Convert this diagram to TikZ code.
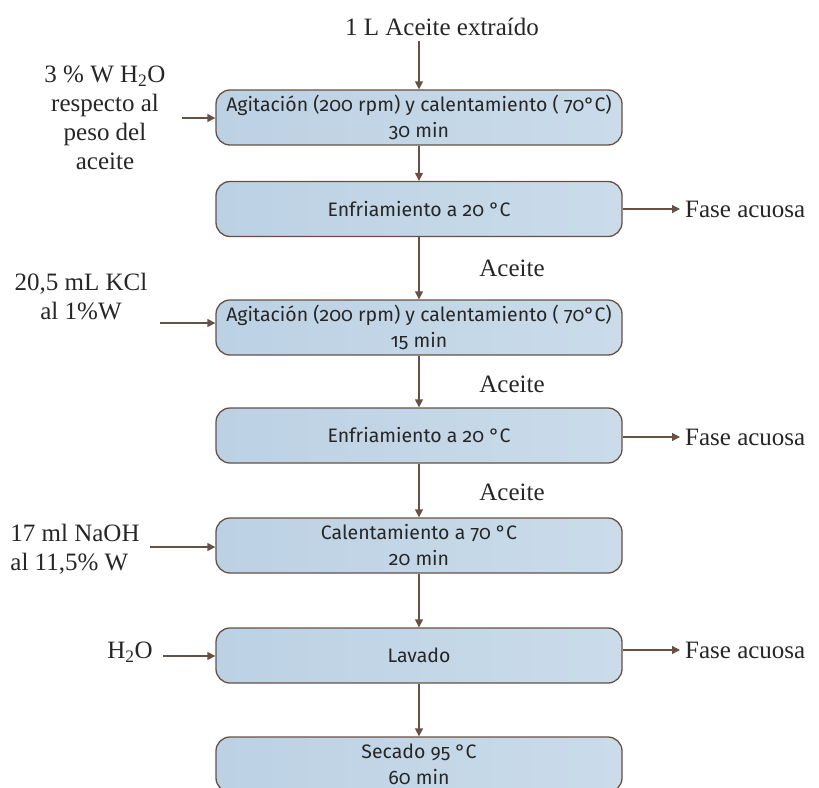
\documentclass[tikz,border=0pt]{standalone}
\usepackage{fontspec}
\setmainfont{Liberation Serif}
\newfontfamily\cajafont[Numbers=OldStyle]{Fira Sans}
\usetikzlibrary{arrows.meta}

\definecolor{cafe}{RGB}{104,80,68}
\definecolor{celesteA}{RGB}{188,209,228}
\definecolor{celesteB}{RGB}{202,220,234}

\tikzset{
  paso/.style={draw=cafe, line width=1.3pt, rounded corners=14pt,
    minimum width=406pt, minimum height=55pt, inner sep=0pt,
    left color=celesteA, right color=celesteB, align=center,
    font=\cajafont\fontsize{19.5}{26}\selectfont, text=black!85},
  txt/.style={font=\fontsize{25}{29}\selectfont, text=black!85, inner sep=0pt},
  flecha/.style={draw=cafe, line width=1.3pt, -{Triangle[length=8pt,width=8pt]}},
}

\begin{document}
\begin{tikzpicture}[x=1pt, y=-1pt]
  \clip (0,0) rectangle (819,787);

  % Cajas
  \node[paso] (agit1) at (419,117.5) {Agitación (200 rpm) y calentamiento ( 70°C)\\30 min};
  \node[paso] (enfr1) at (419,209) {Enfriamiento a 20 °C};
  \node[paso] (agit2) at (419,327.5) {Agitación (200 rpm) y calentamiento ( 70°C)\\15 min};
  \node[paso] (enfr2) at (419,435.5) {Enfriamiento a 20 °C};
  \node[paso] (calen) at (419,545.5) {Calentamiento a 70 °C\\20 min};
  \node[paso] (lavado) at (419,655.5) {Lavado};
  \node[paso] (secado) at (419,764.5) {Secado 95 °C\\60 min};

  % Entradas
  \node[txt] (extraido) at (442,27) {1 L Aceite extraído};
  \node[txt, align=center] (agua1) at (105,118) {3 \% W H\textsubscript{2}O\\respecto al\\peso del\\aceite};
  \node[txt, align=center] (kcl) at (81,297) {20,5 mL KCl\\al 1\%W};
  \node[txt, align=left] (naoh) at (75,549) {17 ml NaOH\\al 11,5\% W};
  \node[txt] (agua2) at (130,652) {H\textsubscript{2}O};
  \coordinate (in1) at (182,118);
  \coordinate (in2) at (160,323);
  \coordinate (in3) at (150,547);
  \coordinate (in4) at (163,656);

  % Salidas
  \node[txt, anchor=west, inner sep=5pt] (fase1) at (680,209) {Fase acuosa};
  \node[txt, anchor=west, inner sep=5pt] (fase2) at (680,437) {Fase acuosa};
  \node[txt, anchor=west, inner sep=5pt] (fase3) at (680,650) {Fase acuosa};

  % Aceite
  \node[txt] (ac1) at (512,268) {Aceite};
  \node[txt] (ac2) at (512,384) {Aceite};
  \node[txt] (ac3) at (512,492) {Aceite};

  % Flechas
  \draw[flecha] (extraido.south -| agit1.north) ++(0,5) -- (agit1.north);
  \draw[flecha] (agit1) -- (enfr1);
  \draw[flecha] (enfr1) -- (agit2);
  \draw[flecha] (agit2) -- (enfr2);
  \draw[flecha] (enfr2) -- (calen);
  \draw[flecha] (calen) -- (lavado);
  \draw[flecha] (lavado) -- (secado);

  \draw[flecha] (in1) -- (in1 -| agit1.west);
  \draw[flecha] (in2) -- (in2 -| agit2.west);
  \draw[flecha] (in3) -- (in3 -| calen.west);
  \draw[flecha] (in4) -- (in4 -| lavado.west);

  \draw[flecha] (fase1.west -| enfr1.east) -- (fase1.west);
  \draw[flecha] (fase2.west -| enfr2.east) -- (fase2.west);
  \draw[flecha] (fase3.west -| lavado.east) -- (fase3.west);
\end{tikzpicture}
\end{document}
